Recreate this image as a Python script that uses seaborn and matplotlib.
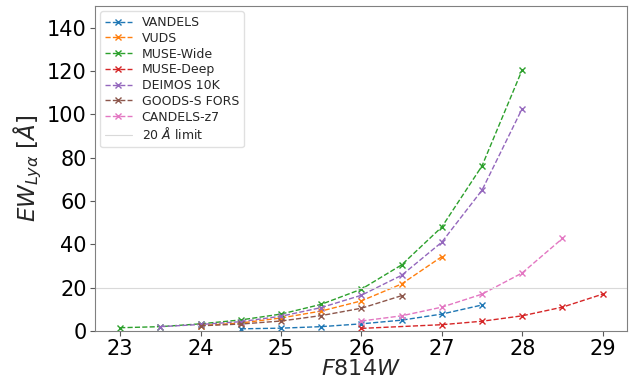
import matplotlib
matplotlib.use("Agg")
import matplotlib.pyplot as plt
import seaborn as sns
import pandas as pd

surveys = ["VANDELS", "VUDS", "MUSE-Wide", "MUSE-Deep", "DEIMOS 10K", "GOODS-S FORS", "CANDELS-z7"]

vandels_x = [24.5, 25.0, 25.5, 26.0, 26.5, 27.0, 27.5]
vandels_y = [1.0, 1.3, 2.0, 3.3, 5.0, 7.8, 12.0]

vuds_x = [24.0, 24.5, 25.0, 25.5, 26.0, 26.5, 27.0]
vuds_y = [2.5, 3.7, 6.0, 9.2, 13.9, 21.7, 34.3]

musewide_x = [23.0, 23.5, 24.0, 24.5, 25.0, 25.5, 26.0, 26.5, 27.0, 27.5, 28.0]
musewide_y = [1.5, 2.0, 3.3, 5.1, 7.8, 12.3, 19.3, 30.5, 48.0, 76.2, 120.6]

musedeep_x = [26.0, 27.0, 27.5, 28.0, 28.5, 29.0]
musedeep_y = [1.2, 2.9, 4.5, 7.0, 11.0, 17.0]

deimos_x = [23.5, 24.0, 24.5, 25.0, 25.5, 26.0, 26.5, 27.0, 27.5, 28.0]
deimos_y = [2.0, 3.0, 4.3, 6.8, 10.8, 16.5, 25.7, 41.0, 65.0, 102.7]

fors_x = [24.0, 24.5, 25.0, 25.5, 26.0, 26.5]
fors_y = [2.4, 3.2, 4.6, 7.1, 10.5, 16.3]

candels_x = [26.0, 26.5, 27.0, 27.5, 28.0, 28.5]
candels_y = [4.6, 7.0, 11.0, 17.0, 26.8, 42.7]

limit_value = 20

series = {
    "VANDELS": (vandels_x, vandels_y),
    "VUDS": (vuds_x, vuds_y),
    "MUSE-Wide": (musewide_x, musewide_y),
    "MUSE-Deep": (musedeep_x, musedeep_y),
    "DEIMOS 10K": (deimos_x, deimos_y),
    "GOODS-S FORS": (fors_x, fors_y),
    "CANDELS-z7": (candels_x, candels_y),
}

sns.set_style("ticks")
plt.rcParams["axes.edgecolor"] = "0.5"
plt.rcParams["xtick.color"] = "0.35"
plt.rcParams["ytick.color"] = "0.35"
plt.rcParams["xtick.labelcolor"] = "black"
plt.rcParams["ytick.labelcolor"] = "black"

fig = plt.figure(figsize=(6.35, 3.8), dpi=100)
ax = fig.add_axes([0.150, 0.129, 0.837, 0.855])

palette = sns.color_palette("tab10")
for i, name in enumerate(surveys):
    xs, ys = series[name]
    df = pd.DataFrame({"mag": xs, "ew": ys})
    sns.lineplot(data=df, x="mag", y="ew", ax=ax, color=palette[i], linestyle="--",
                 marker="x", markersize=4.5, markeredgewidth=1.0,
                 markeredgecolor=palette[i], markerfacecolor=palette[i],
                 linewidth=1.0, label=name)

ax.axhline(limit_value, color="0.85", linewidth=0.8, label=r"20 $\AA$ limit")

ax.set_xlim(22.69, 29.3)
ax.set_ylim(0, 150)
ax.set_xticks([23, 24, 25, 26, 27, 28, 29])
ax.set_yticks([0, 20, 40, 60, 80, 100, 120, 140])
ax.tick_params(labelsize=15, length=3.5, width=0.8, pad=2.5)
ax.set_xlabel(r"$F814W$", fontsize=16, labelpad=0)
ax.set_ylabel(r"$EW_{Ly\alpha}$ [$\AA$]", fontsize=16.5, labelpad=2)

leg = ax.legend(loc="upper left", fontsize=9, frameon=True, handlelength=2.1,
                borderaxespad=0.4, labelspacing=0.22, handletextpad=0.8)
leg.get_frame().set_edgecolor("0.85")

fig.savefig("out.png", dpi=100)
